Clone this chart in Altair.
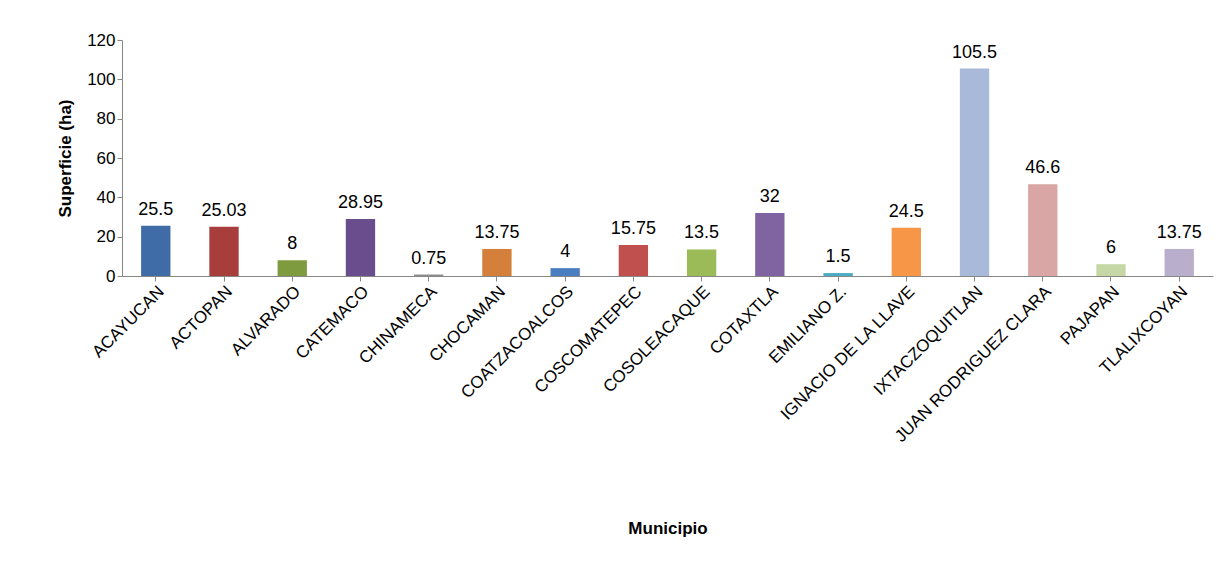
import altair as alt
import pandas

municipios = ["ACAYUCAN", "ACTOPAN", "ALVARADO", "CATEMACO", "CHINAMECA", "CHOCAMAN",
              "COATZACOALCOS", "COSCOMATEPEC", "COSOLEACAQUE", "COTAXTLA", "EMILIANO Z.",
              "IGNACIO DE LA LLAVE", "IXTACZOQUITLAN", "JUAN RODRIGUEZ CLARA", "PAJAPAN",
              "TLALIXCOYAN"]
superficie = [25.5, 25.03, 8, 28.95, 0.75, 13.75, 4, 15.75, 13.5, 32, 1.5, 24.5, 105.5,
              46.6, 6, 13.75]
etiquetas = ["25.5", "25.03", "8", "28.95", "0.75", "13.75", "4", "15.75", "13.5", "32",
             "1.5", "24.5", "105.5", "46.6", "6", "13.75"]
colores = ["#3F6CA6", "#A83E3C", "#7F9B3F", "#6A4D8C", "#8C8C8C", "#D4803A", "#4A7EC0",
           "#C0504D", "#9BBB59", "#8064A2", "#4BACC6", "#F79646", "#A9B9D9", "#D9A6A5",
           "#C5D7A4", "#B9AECC"]

df = pandas.DataFrame({"m": municipios, "v": superficie, "t": etiquetas})

y_axis = alt.Axis(values=[0, 20, 40, 60, 80, 100, 120], grid=False, labelOverlap=False,
                  tickCount=7,
                  labelFontSize=17, labelFont="Liberation Sans", labelColor="black",
                  titleFontSize=17, titleFont="Liberation Sans", titleFontWeight="bold",
                  domainColor="#888", tickColor="#888", titlePadding=12)
y_enc = alt.Y("v:Q", title="Superficie (ha)", scale=alt.Scale(domain=[0, 120], nice=False),
              axis=y_axis)

base = alt.Chart(df).encode(
    alt.X("m:N", sort=municipios, title="Municipio",
          scale=alt.Scale(paddingInner=0.57, paddingOuter=0.28),
          axis=alt.Axis(labelAngle=-45, labelAlign="right", labelBaseline="top",
                        labelFontSize=17, labelFont="Liberation Sans", labelColor="black",
                        labelLimit=0, labelOverlap=False,
                        titleFontSize=17, titleFont="Liberation Sans", titleFontWeight="bold",
                        titlePadding=76, domainColor="#888", tickColor="#888", tickSize=5,
                        labelPadding=2)),
    y=y_enc,
)

bars = base.mark_bar().encode(
    color=alt.Color("m:N", sort=municipios,
                    scale=alt.Scale(domain=municipios, range=colores), legend=None),
)

text = base.mark_text(dy=-16, fontSize=18, font="Liberation Sans", color="black").encode(
    text="t:N")

chart = alt.layer(bars, text).properties(
    width=1091, height=236,
    autosize=alt.AutoSizeParams(type="none"),
    padding={"left": 114, "top": 32, "right": 10, "bottom": 270},
).configure_view(stroke=None)

chart.save("out.html", embed_options={"renderer": "svg", "actions": False})
